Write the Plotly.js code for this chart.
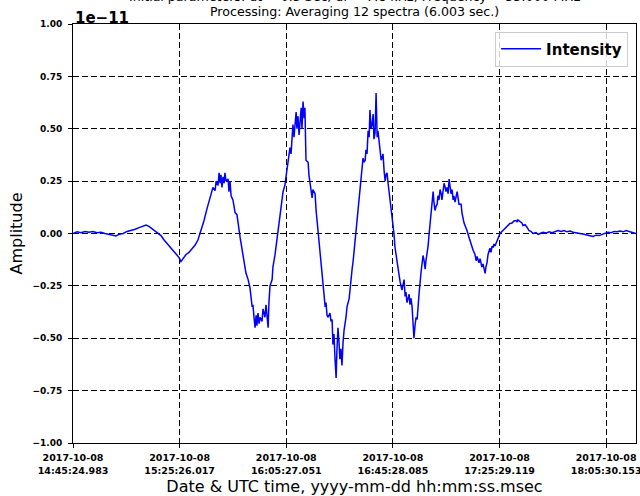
<!DOCTYPE html>
<html>
<head>
<meta charset="utf-8">
<script src="https://cdn.plot.ly/plotly-3.0.1.min.js"></script>
<style>html,body{margin:0;padding:0;background:#fff;}#chart{width:640px;height:496px;}</style>
</head>
<body>
<div id="chart"></div>
<script>
// Sample index (one sample every ~6.003 s) and amplitude in units of 1e-11
const sampleIndex = [0,15,30,45,60,75,90,105,120,135,150,161,173,188,203,218,233,248,263,274,285,296,308,319,330,341,353,364,375,386,398,405,413,424,435,446,458,469,480,491,503,510,518,525,533,537,544,548,552,555,559,563,567,570,574,582,585,589,593,600,608,615,627,638,649,657,664,672,675,679,683,687,690,694,698,702,709,713,720,724,732,735,739,747,750,758,769,780,788,795,799,807,814,818,825,829,837,840,844,848,852,856,859,863,867,870,874,882,885,893,897,900,908,912,919,927,934,942,946,949,953,957,964,968,972,975,979,983,987,990,994,998,1001,1005,1009,1013,1017,1024,1028,1036,1039,1047,1051,1058,1066,1073,1077,1084,1088,1092,1096,1099,1103,1107,1111,1114,1118,1122,1126,1129,1133,1137,1141,1144,1148,1152,1156,1159,1163,1167,1171,1174,1178,1182,1189,1197,1204,1208,1216,1219,1227,1234,1238,1242,1246,1249,1253,1257,1261,1264,1268,1272,1276,1279,1283,1287,1291,1294,1298,1306,1309,1313,1317,1321,1324,1328,1332,1336,1343,1347,1351,1354,1358,1362,1366,1369,1373,1377,1381,1384,1388,1392,1396,1399,1403,1407,1411,1414,1418,1422,1426,1429,1433,1441,1444,1448,1456,1459,1467,1474,1478,1486,1489,1497,1501,1508,1512,1516,1519,1523,1527,1531,1534,1538,1542,1546,1549,1553,1557,1561,1564,1568,1572,1576,1579,1583,1591,1594,1602,1609,1617,1624,1632,1639,1647,1654,1662,1666,1669,1677,1684,1688,1696,1703,1711,1718,1726,1737,1745,1752,1763,1775,1786,1797,1808,1820,1831,1842,1853,1865,1876,1887,1902,1917,1932,1944,1951,1962,1974,1985,1996,2007,2019,2030,2041,2052,2064,2075,2086,2097,2112];
const amplitude = [0.000,0.008,0.004,0.010,0.006,0.010,0.004,0.006,0.000,-0.004,-0.008,-0.012,-0.004,0.000,0.010,0.014,0.020,0.028,0.036,0.040,0.034,0.024,0.014,0.004,-0.010,-0.030,-0.048,-0.066,-0.080,-0.095,-0.115,-0.134,-0.120,-0.100,-0.090,-0.075,-0.055,-0.030,0.010,0.060,0.120,0.150,0.180,0.220,0.205,0.250,0.230,0.290,0.240,0.280,0.220,0.270,0.240,0.290,0.250,0.260,0.200,0.250,0.180,0.160,0.100,0.090,-0.020,-0.115,-0.190,-0.220,-0.260,-0.350,-0.340,-0.400,-0.450,-0.390,-0.440,-0.380,-0.430,-0.400,-0.420,-0.360,-0.400,-0.340,-0.450,-0.330,-0.250,-0.220,-0.160,-0.100,0.000,0.120,0.200,0.230,0.270,0.340,0.410,0.380,0.520,0.460,0.580,0.500,0.560,0.470,0.540,0.600,0.500,0.630,0.550,0.600,0.350,0.340,0.280,0.220,0.170,0.210,0.190,0.110,0.014,-0.080,-0.190,-0.280,-0.350,-0.330,-0.390,-0.400,-0.380,-0.420,-0.410,-0.530,-0.480,-0.600,-0.690,-0.560,-0.450,-0.520,-0.600,-0.550,-0.630,-0.520,-0.460,-0.400,-0.350,-0.310,-0.260,-0.170,-0.130,-0.040,0.048,0.150,0.220,0.300,0.360,0.340,0.350,0.400,0.380,0.490,0.460,0.590,0.500,0.520,0.570,0.450,0.480,0.670,0.460,0.490,0.440,0.400,0.350,0.360,0.380,0.300,0.250,0.280,0.290,0.240,0.160,0.095,0.000,-0.067,-0.140,-0.180,-0.230,-0.270,-0.240,-0.220,-0.300,-0.280,-0.330,-0.300,-0.290,-0.340,-0.310,-0.350,-0.420,-0.500,-0.440,-0.400,-0.410,-0.330,-0.290,-0.180,-0.140,-0.105,-0.130,-0.170,-0.130,-0.100,-0.060,0.000,0.110,0.160,0.200,0.150,0.110,0.130,0.140,0.180,0.160,0.210,0.190,0.160,0.200,0.240,0.220,0.200,0.220,0.190,0.260,0.220,0.190,0.210,0.160,0.180,0.150,0.200,0.170,0.140,0.140,0.100,0.050,0.030,0.014,-0.020,-0.033,-0.060,-0.080,-0.100,-0.130,-0.110,-0.120,-0.140,-0.120,-0.150,-0.160,-0.145,-0.170,-0.190,-0.160,-0.140,-0.100,-0.080,-0.070,-0.090,-0.060,-0.067,-0.050,-0.060,-0.033,-0.020,0.000,0.010,0.020,0.030,0.035,0.048,0.050,0.060,0.062,0.055,0.065,0.055,0.050,0.038,0.042,0.030,0.014,0.010,0.000,0.004,-0.004,0.000,0.006,0.002,0.008,0.004,0.010,0.014,0.010,0.014,0.008,0.012,0.006,0.004,0.000,-0.004,-0.008,-0.010,-0.014,-0.008,-0.010,-0.004,0.000,0.006,0.004,0.010,0.008,0.012,0.008,0.014,0.010,0.006,0.000];

const xTickIndex = [0,400,800,1200,1600,2000];
const xTickLabels = ["2017-10-08<br>14:45:24.983","2017-10-08<br>15:25:26.017","2017-10-08<br>16:05:27.051","2017-10-08<br>16:45:28.085","2017-10-08<br>17:25:29.119","2017-10-08<br>18:05:30.153"];
const yTickValues = [-1,-0.75,-0.5,-0.25,0,0.25,0.5,0.75,1];
const yTickLabels = ["\u22121.00","\u22120.75","\u22120.50","\u22120.25","0.00","0.25","0.50","0.75","1.00"];

const font = 'DejaVu Sans, sans-serif';

const trace = {
  x: sampleIndex, y: amplitude, type: 'scatter', mode: 'lines', name: 'Intensity',
  line: {color: '#0000ff', width: 1.5}
};

const axisCommon = {
  showline: true, linecolor: '#000', linewidth: 1, mirror: true,
  ticks: 'outside', ticklen: 4, tickwidth: 1, tickcolor: '#000',
  showgrid: true, gridcolor: '#000', gridwidth: 1, griddash: '6px,3px',
  zeroline: false
};

const layout = {
  width: 640, height: 496,
  margin: {l: 73, r: 4, t: 24, b: 53},
  paper_bgcolor: '#fff', plot_bgcolor: '#fff',
  showlegend: true,
  legend: {x: 0.986, y: 0.982, xanchor: 'right', yanchor: 'top',
    bgcolor: 'rgba(255,255,255,0.8)', bordercolor: '#cccccc', borderwidth: 1,
    itemwidth: 40, tracegroupgap: 0,
    font: {family: font, size: 15, color: '#000', weight: 'bold'}},
  xaxis: Object.assign({}, axisCommon, {
    range: [0, 2112], tickmode: 'array', tickvals: xTickIndex, ticktext: xTickLabels,
    tickfont: {family: font, size: 9.5, color: '#000', weight: 'bold'},
    ticklabelstandoff: 2, ticklabeloverflow: 'allow',
    title: {text: 'Date & UTC time, yyyy-mm-dd hh:mm:ss.msec', font: {family: font, size: 16, color: '#000'}, standoff: 6}
  }),
  yaxis: Object.assign({}, axisCommon, {
    range: [-1, 1], tickmode: 'array', tickvals: yTickValues, ticktext: yTickLabels,
    tickfont: {family: font, size: 9, color: '#000', weight: 'bold'},
    ticklabelstandoff: 4,
    title: {text: 'Amplitude', font: {family: font, size: 16, color: '#000'}, standoff: 5}
  }),
  annotations: [
    {text: 'Initial parameters: dt = 0.5 Sec, df = 7.8 kHz, Frequency = 33.000 MHz', xref: 'paper', yref: 'paper', x: 0.5, y: 1, xanchor: 'center', yanchor: 'bottom', yshift: 18, showarrow: false, font: {family: font, size: 12.6, color: '#000'}},
    {text: 'Processing: Averaging 12 spectra (6.003 sec.)', xref: 'paper', yref: 'paper', x: 0.5, y: 1, xanchor: 'center', yanchor: 'bottom', yshift: 3, showarrow: false, font: {family: font, size: 12.6, color: '#000'}},
    {text: '1e\u221211', xref: 'paper', yref: 'paper', x: 0, y: 1, xanchor: 'left', yanchor: 'bottom', yshift: -5, showarrow: false, font: {family: font, size: 15, color: '#000', weight: 'bold'}}
  ]
};

Plotly.newPlot('chart', [trace], layout, {displayModeBar: false, staticPlot: true});
</script>
</body>
</html>
